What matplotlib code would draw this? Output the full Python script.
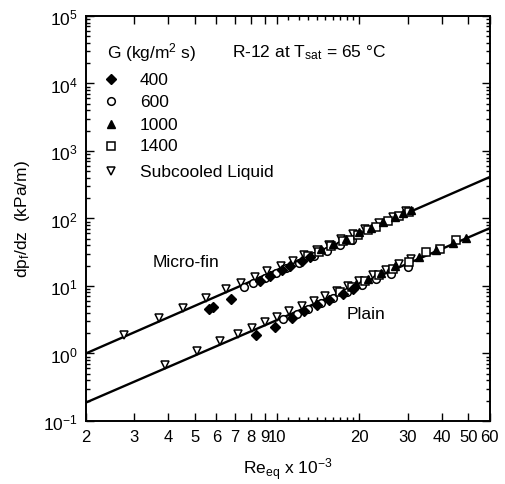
import matplotlib
matplotlib.use("Agg")
import matplotlib.pyplot as plt
from matplotlib.ticker import FixedLocator, FixedFormatter, LogLocator, NullFormatter
import numpy as np

plt.rcParams['font.family'] = ['Liberation Sans', 'DejaVu Sans']
plt.rcParams['mathtext.default'] = 'regular'
plt.rcParams['axes.unicode_minus'] = False

# ---- micro-fin tube data (Re_eq x 1e-3, dp/dz kPa/m) ----
mf_sub_re = [2.75, 3.7, 4.55, 5.5, 6.5, 7.4, 8.3, 9.2, 10.3, 11.4, 12.6, 14.0, 15.5, 17.2, 19.0, 21.0, 23.5, 26.5, 29.5]
mf_sub_dp = [1.85, 3.3, 4.75, 6.6, 8.9, 11.2, 13.7, 16.4, 20.0, 23.8, 28.5, 34.3, 41.0, 49.5, 59.0, 70.0, 85.0, 106.0, 128.0]

mf_400_re = [5.65, 5.85, 6.8, 8.7, 9.4, 10.4, 11.2, 12.3, 13.2]
mf_400_dp = [4.5, 4.9, 6.5, 12.0, 14.0, 17.0, 19.5, 23.5, 26.5]

mf_600_re = [7.6, 8.2, 9.0, 9.9, 10.8, 12.0, 13.6, 15.2, 17.0, 18.8]
mf_600_dp = [9.8, 11.2, 13.2, 15.6, 18.2, 21.9, 27.4, 33.3, 40.7, 48.5]

mf_1000_re = [14.5, 16.0, 17.8, 20.0, 22.0, 24.5, 27.0, 29.0, 31.0]
mf_1000_dp = [35.0, 41.7, 50.3, 62.0, 73.0, 88.5, 105.0, 119.0, 134.0]

mf_1400_re = [13.0, 14.2, 15.8, 17.5, 18.5, 19.8, 21.5, 23.0, 25.5, 28.0, 30.5]
mf_1400_dp = [27.5, 32.1, 38.8, 46.5, 48.5, 57.8, 66.9, 75.4, 90.5, 110.0, 124.3]

# ---- plain tube data ----
pl_sub_re = [3.9, 5.1, 6.2, 7.2, 8.1, 9.0, 10.0, 11.1, 12.3, 13.6, 15.0, 16.5, 18.2, 20.0, 22.5, 25.0, 28.0, 31.0]
pl_sub_dp = [0.67, 1.07, 1.52, 1.97, 2.42, 2.91, 3.5, 4.2, 5.0, 6.0, 7.1, 8.4, 10.0, 11.8, 14.5, 17.4, 21.2, 25.3]

pl_400_re = [8.4, 9.8, 11.3, 12.5, 14.0, 15.5, 17.5, 19.0]
pl_400_dp = [1.85, 2.5, 3.4, 4.2, 5.2, 6.2, 7.7, 8.9]

pl_600_re = [10.5, 11.8, 13.0, 14.5, 16.0, 18.0, 20.5, 23.0, 26.0, 30.0]
pl_600_dp = [3.2, 3.9, 4.6, 5.6, 6.6, 8.1, 10.2, 12.5, 15.2, 18.8]

pl_1000_re = [19.5, 21.5, 24.0, 27.0, 33.0, 38.0, 44.0, 49.0]
pl_1000_dp = [10.8, 12.8, 15.5, 19.5, 27.0, 34.5, 44.0, 52.0]

pl_1400_re = [17.0, 18.8, 21.0, 23.5, 26.5, 30.5, 35.0, 39.5, 45.0]
pl_1400_dp = [8.2, 9.6, 11.8, 14.3, 17.8, 22.4, 32.0, 35.5, 48.0]

# correlation lines, end values
fit_re = [2.0, 60.0]
mf_fit_dp = [1.0, 412.0]
pl_fit_dp = [0.187, 71.9]

x_ticks = [2, 3, 4, 5, 6, 7, 8, 9, 10, 20, 30, 40, 50, 60]
x_labels = ['2', '3', '4', '5', '6', '7', '8', '9', '10', '20', '30', '40', '50', '60']

fig = plt.figure(figsize=(5.05, 4.85), dpi=100)
ax = fig.add_axes([0.170, 0.130, 0.800, 0.835])

ax.plot(fit_re, mf_fit_dp, color='black', lw=1.7, zorder=2)
ax.plot(fit_re, pl_fit_dp, color='black', lw=1.7, zorder=2)

styles = {
    '400': dict(marker='D', mfc='black', mec='black', ms=5),
    '600': dict(marker='o', mfc='white', mec='black', ms=5.5, mew=1.1),
    '1000': dict(marker='^', mfc='black', mec='black', ms=6),
    '1400': dict(marker='s', mfc='white', mec='black', ms=5.5, mew=1.1),
    'sub': dict(marker='v', mfc='white', mec='black', ms=6, mew=1.1),
}

for re_, dp_, key in [(mf_sub_re, mf_sub_dp, 'sub'), (mf_600_re, mf_600_dp, '600'),
                      (mf_1400_re, mf_1400_dp, '1400'), (mf_1000_re, mf_1000_dp, '1000'),
                      (mf_400_re, mf_400_dp, '400'),
                      (pl_sub_re, pl_sub_dp, 'sub'), (pl_600_re, pl_600_dp, '600'),
                      (pl_1400_re, pl_1400_dp, '1400'), (pl_1000_re, pl_1000_dp, '1000'),
                      (pl_400_re, pl_400_dp, '400')]:
    ax.plot(re_, dp_, ls='none', zorder=3, **styles[key])

ax.set_xscale('log')
ax.set_yscale('log')
ax.set_xlim(2, 60)
ax.set_ylim(0.1, 1e5)

ax.xaxis.set_major_locator(FixedLocator(x_ticks))
ax.xaxis.set_major_formatter(FixedFormatter(x_labels))
ax.xaxis.set_minor_locator(FixedLocator([11, 12, 13, 14, 15, 16, 17, 18, 19]))
ax.xaxis.set_minor_formatter(NullFormatter())
ax.yaxis.set_major_locator(LogLocator(base=10, numticks=10))
ax.yaxis.set_minor_locator(LogLocator(base=10, subs=np.arange(2, 10), numticks=20))
ax.yaxis.set_minor_formatter(NullFormatter())

ax.tick_params(which='both', direction='in', top=True, right=True, width=1.0)
ax.tick_params(axis='y', labelsize=12.5)
ax.tick_params(axis='x', labelsize=12)
ax.tick_params(which='major', length=6, pad=6)
ax.tick_params(which='minor', length=3)
for s in ax.spines.values():
    s.set_linewidth(1.4)

ax.set_xlabel('Re$_{eq}$ x 10$^{-3}$', fontsize=12.5, labelpad=8)
ax.set_ylabel('dp$_f$/dz  (kPa/m)', fontsize=12.5, labelpad=8)

ax.text(3.5, 22.7, 'Micro-fin', fontsize=12.5, ha='left', va='center')
ax.text(18.0, 3.85, 'Plain', fontsize=12.5, ha='left', va='center')

tr = ax.transAxes
ax.text(0.052, 0.911, 'G (kg/m$^2$ s)', transform=tr, fontsize=12.5, va='center')
ax.text(0.361, 0.911, 'R-12 at T$_{sat}$ = 65 \u00b0C', transform=tr, fontsize=12.5, va='center')
rows = [('400', 0.844), ('600', 0.790), ('1000', 0.733), ('1400', 0.679), ('Subcooled Liquid', 0.617)]
keys = ['400', '600', '1000', '1400', 'sub']
for (lab, yy), key in zip(rows, keys):
    ax.plot([0.062], [yy], transform=tr, ls='none', **styles[key])
    ax.text(0.134, yy, lab, transform=tr, fontsize=12.5, va='center')

fig.savefig('out.png', dpi=100)
